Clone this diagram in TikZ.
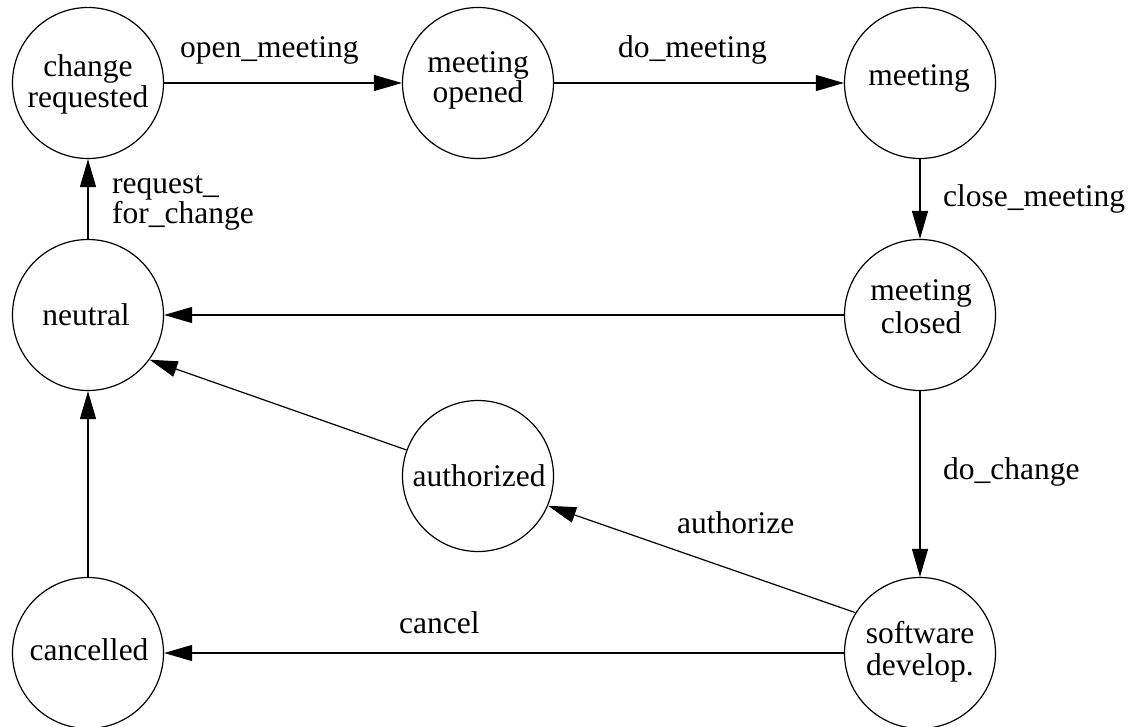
\documentclass[tikz,border=0pt]{standalone}
\usepackage{fontspec}
\setmainfont{Liberation Serif}
\usetikzlibrary{arrows.meta}
\newcommand\twolc[3]{\vtop{\baselineskip=#1\lineskiplimit=-\maxdimen\halign{\hfil##\hfil\cr #2\cr #3\cr}}}
\newcommand\twoll[3]{\vtop{\baselineskip=#1\lineskiplimit=-\maxdimen\halign{##\hfil\cr #2\cr #3\cr}}}
\begin{document}
\begin{tikzpicture}[x=1pt,y=-1pt,
  state/.style={circle,draw,line width=1.2pt,minimum size=151pt,inner sep=0pt},
  txt/.style={inner sep=0pt,anchor=base,font=\fontsize{31.5}{31.5}\selectfont},
  lab/.style={inner sep=0pt,anchor=base west,font=\fontsize{31.5}{31.5}\selectfont},
  arr/.style={line width=1.2pt,-{Triangle[length=28pt,width=16pt]}}]
\useasboundingbox (0,0) rectangle (1134,726);
\fill[white] (0,0) rectangle (1134,726);
% states
\node[state] (cr) at (88,83) {};
\node[state] (mo) at (478,83) {};
\node[state] (mt) at (920,83) {};
\node[state] (ne) at (88,315) {};
\node[state] (mc) at (920,315) {};
\node[state] (au) at (478,476) {};
\node[state] (ca) at (88,653) {};
\node[state] (sw) at (920,653) {};
% state texts
\node[txt] (crT) at (88,76) {\twolc{31pt}{change}{requested}};
\node[txt] (moT) at (478,72) {\twolc{30pt}{meeting}{opened}};
\node[txt] (mtT) at (919,85) {meeting};
\node[txt] (neT) at (86,325) {neutral};
\node[txt] (mcT) at (921,300) {\twolc{33pt}{meeting}{closed}};
\node[txt] (auT) at (479,486) {authorized};
\node[txt] (caT) at (89,660) {cancelled};
\node[txt] (swT) at (920,643) {\twolc{32pt}{software}{develop.}};
% edge labels
\node[lab] (l1) at (180,57) {open\_meeting};
\node[lab] (l2) at (618,57) {do\_meeting};
\node[lab] (l3) at (943,206) {close\_meeting};
\node[lab] (l4) at (112,193) {\twoll{30pt}{request\_}{for\_change}};
\node[lab] (l5) at (943,479) {do\_change};
\node[lab] (l6) at (677,533) {authorize};
\node[lab] (l7) at (399,633) {cancel};
% connectors
\draw[arr] (cr.east) -- (mo.west);
\draw[arr] (mo.east) -- (mt.west);
\draw[arr] (mt.south) -- (mc.north);
\draw[arr] (mc.west) -- (ne.east);
\draw[arr] (ne.north) -- (cr.south);
\draw[arr] (ca.north) -- (ne.south);
\draw[arr] (mc.south) -- (sw.north);
\draw[arr] (sw.west) -- (ca.east);
\draw[arr] (sw.148) -- (au.-23);
\draw[arr] (au.160) -- (ne.-36);
\end{tikzpicture}
\end{document}
